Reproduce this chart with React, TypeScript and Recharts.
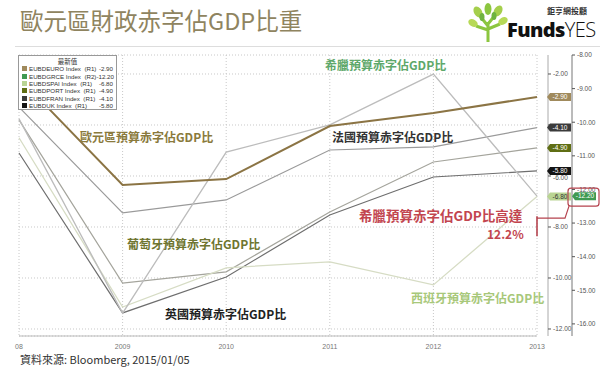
import React from 'react';
import { LineChart, Line, XAxis, YAxis, CartesianGrid, LabelList } from 'recharts';

const years = ['2008', '2009', '2010', '2011', '2012', '2013'];
const yearTickLabels = ['08', '2009', '2010', '2011', '2012', '2013'];

// 預算赤字佔GDP比 (%)
const euroDeficit = [-2.15, -6.35, -6.12, -4.04, -3.53, -2.9];
const greeceDeficit = [-9.9, -15.68, -10.89, -10.08, -8.57, -12.2];
const spainDeficit = [-4.5, -11.14, -9.6, -9.37, -10.27, -6.8];
const portugalDeficit = [-3.8, -10.2, -9.76, -7.41, -5.45, -4.9];
const franceDeficit = [-3.3, -7.45, -6.94, -4.98, -4.86, -4.1];
const ukDeficit = [-5.1, -11.37, -9.96, -7.53, -6.04, -5.8];

const leftTicks = [-2, -4, -6, -8, -10, -12];
// -4.00 sits under the -4.10 tag in the original, so its text is not drawn
const hiddenLeftTickLabels = [-4];
const rightTicks = [-8, -9, -10, -11, -12, -13, -14, -15, -16];

const series = [
  { key: 'euro', ticker: 'EUBDEURO Index', axis: 'R1', values: euroDeficit, box: '#a08a5c', boxText: '#fff', line: '#8b7444', width: 2 },
  { key: 'greece', ticker: 'EUBDGRCE Index', axis: 'R2', values: greeceDeficit, box: '#3f9a52', boxText: '#fff', line: '#bcbcbc', width: 1.3 },
  { key: 'spain', ticker: 'EUBDSPAI Index', axis: 'R1', values: spainDeficit, box: '#b9d493', boxText: '#333', line: '#d6dcc4', width: 1.3 },
  { key: 'portugal', ticker: 'EUBDPORT Index', axis: 'R1', values: portugalDeficit, box: '#5f6e14', boxText: '#fff', line: '#a4a49c', width: 1.2 },
  { key: 'france', ticker: 'EUBDFRAN Index', axis: 'R1', values: franceDeficit, box: '#3b3b3b', boxText: '#fff', line: '#9a9a9a', width: 1.2 },
  { key: 'uk', ticker: 'EUBDUK Index', axis: 'R1', values: ukDeficit, box: '#141414', boxText: '#fff', line: '#6e6e6e', width: 1.2 },
];

const data = years.map((year, i) => {
  const row: Record<string, any> = { year };
  series.forEach((s) => (row[s.key] = s.values[i]));
  return row;
});

const cjk = '"Noto Sans CJK TC", "Noto Sans", sans-serif';
const sans = '"Liberation Sans", Arial, sans-serif';

const makeTag = (s: any) => (props: any) => {
  const { index, value } = props;
  if (index !== years.length - 1) return null;
  const x = props.x ?? props.viewBox?.x;
  const y = props.y ?? props.viewBox?.y;
  const bx = x + (s.axis === 'R2' ? 38 : 13);
  return (
    <g>
      <path
        d={`M${bx - 3},${y} L${bx},${y - 4} L${bx + 21},${y - 4} L${bx + 21},${y + 4} L${bx},${y + 4} Z`}
        fill={s.box}
      />
      <text x={bx + 10} y={y + 2.3} fontSize={6.5} textAnchor="middle" fill={s.boxText} fontFamily={sans}>
        {Number(value).toFixed(2)}
      </text>
      {s.key === 'greece' && (
        <g fill="none" stroke="#b5434e" strokeWidth={1.2}>
          <rect x={x + 31} y={y - 8} width={31} height={18} rx={3} />
          <path d={`M${x + 32},${y + 10} L${x + 28},${y + 22} L${x},${y + 22}`} />
          <path d={`M${x},${y + 20} L${x},${y + 40}`} strokeWidth={1.6} />
        </g>
      )}
    </g>
  );
};

const LeftTick = (props: any) => {
  const { x, y, payload } = props;
  if (hiddenLeftTickLabels.includes(payload.value)) return null;
  // -6.00 peeks out just under the -5.80 tag
  const dy = payload.value === -6 ? 4.5 : 2.3;
  return (
    <text x={x} y={y + dy} fontSize={6.5} fill="#555" fontFamily={sans}>
      {Number(payload.value).toFixed(2)}
    </text>
  );
};

const seriesLabels = [
  { text: '歐元區預算赤字佔GDP比', left: 80, top: 129, color: '#8a7a3c' },
  { text: '希臘預算赤字佔GDP比', left: 325, top: 57, color: '#5ea86a' },
  { text: '法國預算赤字佔GDP比', left: 332, top: 129, color: '#333333' },
  { text: '葡萄牙預算赤字佔GDP比', left: 127, top: 236, color: '#6e7530' },
  { text: '英國預算赤字佔GDP比', left: 165, top: 306, color: '#222222' },
  { text: '西班牙預算赤字佔GDP比', left: 411, top: 290, color: '#a8c87a' },
];

const Logo = () => (
  <svg width={40} height={42} viewBox="0 0 40 42" style={{ position: 'absolute', left: 468, top: 2 }}>
    <path d="M20,40 L20,20 M20,24 L12,14 M20,22 L28,12 M20,28 L8,24 M20,27 L32,22" stroke="#8cc63f" strokeWidth={3} fill="none" />
    <ellipse cx={10} cy={10} rx={4} ry={6} fill="#a5cf4c" transform="rotate(-30 10 10)" />
    <ellipse cx={20} cy={7} rx={3.5} ry={6} fill="#8cc63f" />
    <ellipse cx={30} cy={9} rx={4} ry={6} fill="#a5cf4c" transform="rotate(30 30 9)" />
    <ellipse cx={5} cy={21} rx={3.5} ry={5} fill="#b7d957" transform="rotate(-60 5 21)" />
    <ellipse cx={35} cy={19} rx={3.5} ry={5} fill="#b7d957" transform="rotate(60 35 19)" />
    <ellipse cx={14} cy={15} rx={2.5} ry={4} fill="#6eb33f" />
    <ellipse cx={26} cy={14} rx={2.5} ry={4} fill="#6eb33f" />
  </svg>
);

export default function App() {
  return (
    <div style={{ position: 'absolute', left: 0, top: 0, width: 600, height: 373, background: '#fff', overflow: 'hidden' }}>
      <div style={{ position: 'absolute', left: 20, top: 3, fontFamily: cjk, fontSize: 23.5, color: '#8f845f', whiteSpace: 'nowrap' }}>
        歐元區財政赤字佔GDP比重
      </div>
      <div style={{ position: 'absolute', left: 15, right: 0, top: 46, height: 1, background: '#dddddd' }} />
      <Logo />
      <div style={{ position: 'absolute', left: 547, top: 5, fontFamily: cjk, fontSize: 8, fontWeight: 700, color: '#333', whiteSpace: 'nowrap' }}>
        鉅亨網投顧
      </div>
      <div style={{ position: 'absolute', left: 507, top: 16, fontFamily: '"Open Sans", sans-serif', fontSize: 20, color: '#111', whiteSpace: 'nowrap', letterSpacing: -0.6 }}>
        <span style={{ fontWeight: 800 }}>Funds</span>
        <span style={{ fontWeight: 300 }}>YES</span>
      </div>

      <LineChart width={600} height={373} data={data} margin={{ top: 55, left: 19, right: 0, bottom: 17 }} style={{ position: 'absolute', left: 0, top: 0 }}>
        <CartesianGrid yAxisId="left" stroke="#c8c8c8" strokeDasharray="1 2" />
        <XAxis
          dataKey="year"
          scale="point"
          padding={{ left: 0, right: 0 }}
          height={20}
          tickFormatter={(_v: string, i: number) => yearTickLabels[i]}
          tick={{ fontSize: 7, fill: '#777', fontFamily: sans }}
          tickLine={false}
          axisLine={{ stroke: '#bbb' }}
        />
        <YAxis yAxisId="gap" orientation="right" width={11} tick={false} axisLine={false} tickLine={false} domain={[0, 1]} />
        <YAxis
          yAxisId="left"
          orientation="right"
          width={24}
          domain={[-12.275, -1.255]}
          allowDataOverflow
          ticks={leftTicks}
          interval={0}
          tick={<LeftTick />}
          tickSize={3}
          tickLine={{ stroke: '#555' }}
          axisLine={{ stroke: '#aaa' }}
        />
        <YAxis
          yAxisId="right"
          orientation="right"
          width={28}
          domain={[-16.36, -8]}
          allowDataOverflow
          ticks={rightTicks}
          interval={0}
          tickFormatter={(v: number) => v.toFixed(2)}
          tick={{ fontSize: 6.5, fill: '#555', fontFamily: sans }}
          tickSize={3}
          tickLine={{ stroke: '#555' }}
          axisLine={{ stroke: '#777' }}
        />
        {[...series].reverse().map((s) => (
          <Line
            key={s.key}
            yAxisId={s.axis === 'R2' ? 'right' : 'left'}
            dataKey={s.key}
            type="linear"
            stroke={s.line}
            strokeWidth={s.width}
            dot={false}
            activeDot={false}
            isAnimationActive={false}
          >
            <LabelList dataKey={s.key} content={makeTag(s)} />
          </Line>
        ))}
      </LineChart>

      <div style={{ position: 'absolute', left: 18, top: 55, width: 99, height: 55, border: '1px solid #999', background: '#fff', fontFamily: sans, fontSize: 6.2, color: '#333', boxSizing: 'border-box', padding: '1px 3px' }}>
        <div style={{ textAlign: 'center', fontFamily: cjk, fontSize: 6.5, lineHeight: '8px' }}>最新值</div>
        {series.map((s) => (
          <div key={s.key} style={{ display: 'flex', alignItems: 'center', height: 7.4, whiteSpace: 'nowrap' }}>
            <span style={{ width: 5, height: 5, background: s.box, marginRight: 2, flex: 'none' }} />
            <span style={{ flex: 1 }}>{s.ticker} &nbsp;({s.axis})</span>
            <span>{s.values[s.values.length - 1].toFixed(2)}</span>
          </div>
        ))}
      </div>

      {seriesLabels.map((l) => (
        <div key={l.text} style={{ position: 'absolute', left: l.left, top: l.top, fontFamily: cjk, fontSize: 12, fontWeight: 700, color: l.color, whiteSpace: 'nowrap', lineHeight: '16px' }}>
          {l.text}
        </div>
      ))}
      <div style={{ position: 'absolute', left: 359, top: 206, fontFamily: cjk, fontSize: 13.5, fontWeight: 700, color: '#c2454f', whiteSpace: 'nowrap', lineHeight: '18px' }}>
        希臘預算赤字佔GDP比高達
      </div>
      <div style={{ position: 'absolute', left: 487, top: 226, fontFamily: cjk, fontSize: 12, fontWeight: 700, color: '#c2454f', whiteSpace: 'nowrap', lineHeight: '16px' }}>
        12.2%
      </div>

      <div style={{ position: 'absolute', left: 20, top: 351, fontFamily: cjk, fontSize: 11, color: '#333', whiteSpace: 'nowrap' }}>
        資料來源: Bloomberg, 2015/01/05
      </div>
    </div>
  );
}
